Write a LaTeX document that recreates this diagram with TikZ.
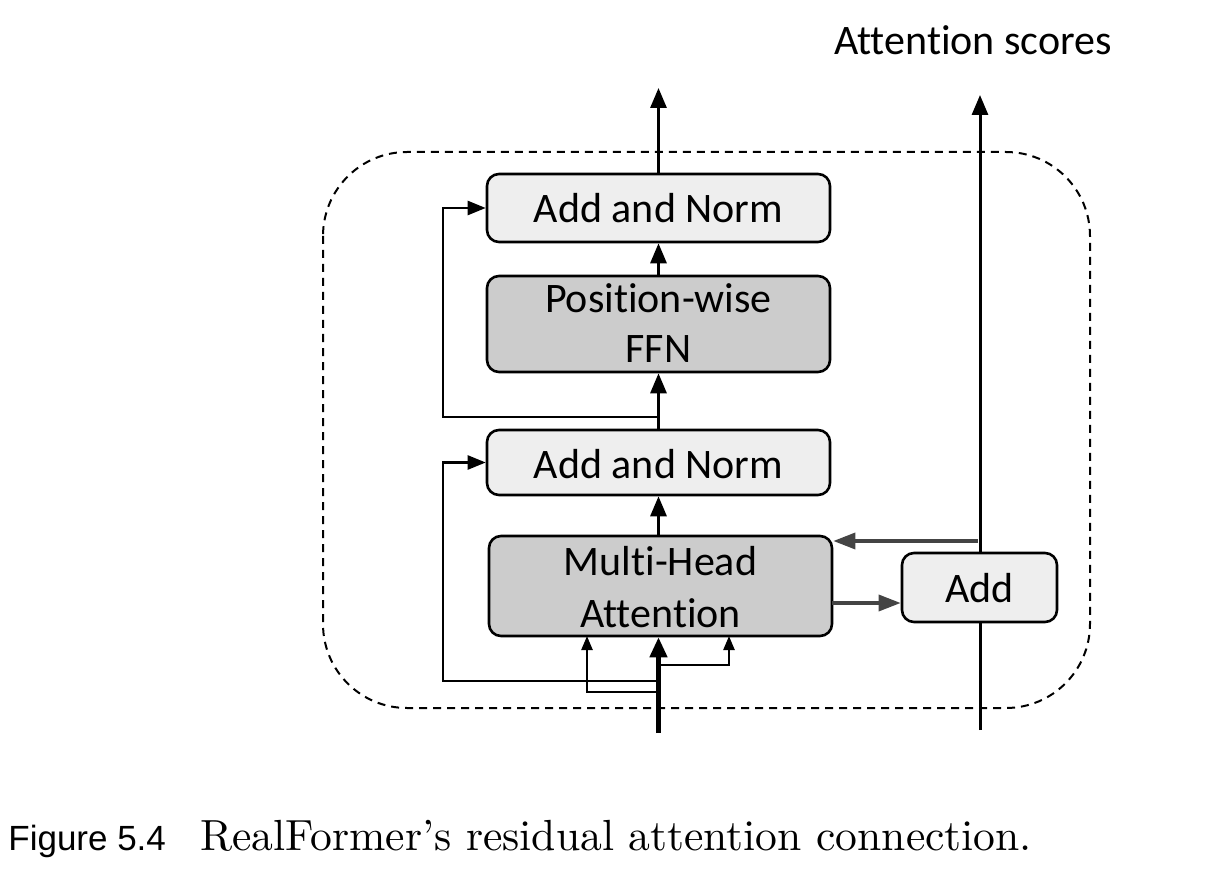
\documentclass[tikz,border=0pt]{standalone}
\usepackage{fontspec}
\newfontfamily\calibri[Ligatures={NoCommon}]{Carlito}
\newfontfamily\arialf{Liberation Sans}
\newfontfamily\lmten{lmroman10-regular}[Extension=.otf,Ligatures=TeX]
\usetikzlibrary{arrows.meta}
\definecolor{lightfill}{HTML}{EEEEEE}
\definecolor{darkfill}{HTML}{CCCCCC}
\definecolor{arrowgray}{HTML}{444444}
\tikzset{
  boxbase/.style={draw=black, line width=1.3pt, rounded corners=6pt, inner sep=0pt},
  lightbox/.style={boxbase, fill=lightfill},
  darkbox/.style={boxbase, fill=darkfill},
  lbl/.style={font=\calibri\fontsize{21}{26}\selectfont, inner sep=0pt, anchor=base},
  mainarrow/.style={line width=1.5pt, -{Triangle[width=8pt,length=10pt]}},
  inarrow/.style={line width=2.2pt, -{Triangle[width=8.5pt,length=10pt]}},
  smallarrow/.style={line width=1.2pt, -{Triangle[width=5.5pt,length=7pt]}},
  resarrow/.style={line width=1.2pt, -{Triangle[width=7pt,length=9pt]}},
  grayarrow/.style={draw=arrowgray, line width=1.7pt, -{Triangle[width=8pt,length=11pt]}, arrowgray},
  plainline/.style={line width=1.5pt},
  dashbox/.style={line width=1pt, dash pattern=on 4pt off 3pt, rounded corners=42pt}
}
\begin{document}
\begin{tikzpicture}[x=0.5pt,y=-0.5pt]
\useasboundingbox (0,0) rectangle (1212,872);
% dashed layer frame
\draw[dashbox] (323,152) rectangle (1090,708);
% boxes
\node[lightbox, minimum width=171.5pt, minimum height=34pt] (an2) at (658.5,208) {};
\node[darkbox, minimum width=171.5pt, minimum height=48pt] (ffn) at (658.5,324) {};
\node[lightbox, minimum width=171.5pt, minimum height=32.5pt] (an1) at (658.5,462.5) {};
\node[darkbox, minimum width=171.5pt, minimum height=50pt] (mha) at (660.5,586) {};
\node[lightbox, minimum width=77.5pt, minimum height=34.5pt] (add) at (979.5,587.5) {};
% texts
\node[lbl] (t1) at (658.5,223) {Add and Norm};
\node[lbl] (t2) at (658.5,313) {Position-wise};
\node[lbl] (t3) at (658.5,363) {FFN};
\node[lbl] (t4) at (658.5,478) {Add and Norm};
\node[lbl] (t5) at (660.5,575) {Multi-Head};
\node[lbl] (t6) at (660.5,627) {Attention};
\node[lbl] (t7) at (979.5,602) {Add};
\node[lbl] (title) at (973,55) {Attention scores};
% coordinates
\coordinate (outtop) at (658.5,88);
\coordinate (r1) at (658.5,417);
\coordinate (r2) at (658.5,681);
\coordinate (inb) at (658.5,733);
\coordinate (b1) at (658.5,692);
\coordinate (b2) at (661,665);
\coordinate (kx) at (587,636);
\coordinate (vx) at (729,636);
\coordinate (sbot) at (980,730);
\coordinate (stop) at (980,95);
\coordinate (g1) at (978,541);
\coordinate (m2) at (832,603);
% main flow
\draw[mainarrow] (an2.north) -- (outtop);
\draw[mainarrow] (ffn.north) -- (an2.south);
\draw[mainarrow] (an1.north) -- (ffn.south);
\draw[mainarrow] (an1.south |- mha.north) -- (an1.south);
\draw[resarrow] (r1) -- (443,417) |- (an2.west);
\draw[resarrow] (r2) -- (443,681) |- (an1.west);
\draw[inarrow] (inb) -- (inb |- mha.south);
\draw[smallarrow] (b1) -| (kx);
\draw[smallarrow] (b2) -| (vx);
% attention score path
\draw[plainline] (sbot) -- (sbot |- add.south);
\draw[mainarrow] (stop |- add.north) -- (stop);
\draw[grayarrow] (g1) -- (g1 -| mha.east);
\draw[grayarrow] (m2) -- (m2 -| add.west);
% caption
\node[anchor=base west, inner sep=0pt, font=\arialf\fontsize{17.5}{20}\selectfont] (fig) at (8,850) {Figure 5.4};
\node[anchor=base west, inner sep=0pt, font=\lmten\fontsize{21.8}{26}\selectfont] (cap) at (200,850) {RealFormer’s residual attention connection.};
\end{tikzpicture}
\end{document}
